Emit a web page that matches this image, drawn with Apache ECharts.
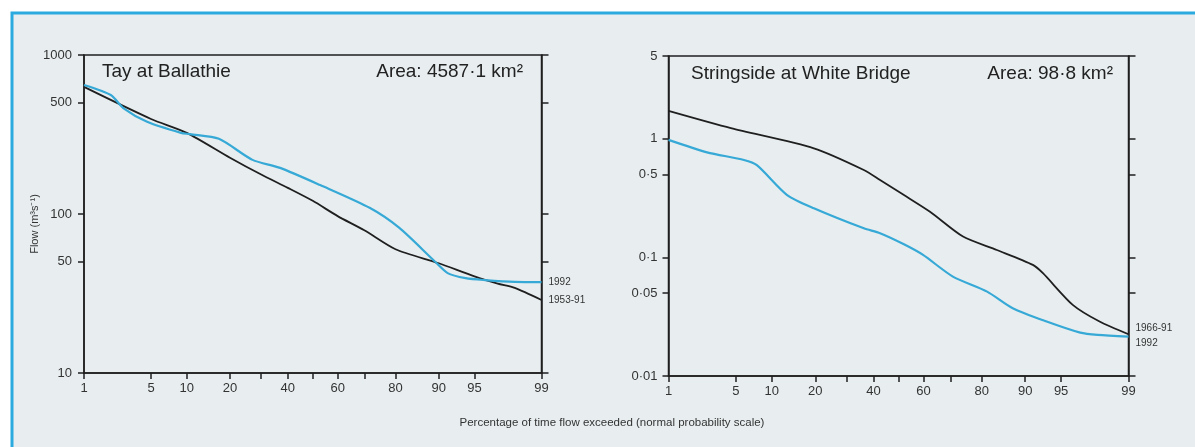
<!DOCTYPE html>
<html>
<head>
<meta charset="utf-8">
<script src="https://cdn.jsdelivr.net/npm/echarts@6/dist/echarts.min.js"></script>
<style>
html,body{margin:0;padding:0;background:#ffffff;}
#chart{width:1195px;height:447px;}
</style>
</head>
<body>
<div id="chart"></div>
<script>
// ---- data (x = percentage of time flow exceeded, y = flow m3/s) ----
const xLabelPercents = [1, 5, 10, 20, 40, 60, 80, 90, 95, 99];
const xTickPercents = [1, 5, 10, 20, 30, 40, 50, 60, 70, 80, 90, 95, 99];

const tayTicks = [10, 50, 100, 500, 1000];
const stringTicks = [0.01, 0.05, 0.1, 0.5, 1, 5];

// Tay at Ballathie, 1953-91
const tayLongP = [1, 5, 10, 20, 30, 40, 50, 60, 70, 80, 90, 95, 97, 98, 99];
const tayLongQ = [630, 396, 324, 226, 177, 146, 121, 97, 79, 60, 49, 40.5, 36.5, 34.3, 28.8];
// Tay at Ballathie, 1992
const tay92P = [1, 2, 2.7, 4.6, 9, 10.6, 17, 27, 37, 53, 72, 81, 89, 91.5, 94, 96, 98, 99];
const tay92Q = [648, 560, 464, 380, 324, 318, 297, 219, 195, 152, 109, 82, 51.4, 42.5, 39.5, 38.4, 37.4, 37.3];

// Stringside at White Bridge, 1966-91
const strLongP = [1, 4.5, 19.6, 36.3, 42.6, 52.2, 62.5, 74.3, 84.0, 91.3, 92.8, 96.1, 97.9, 99];
const strLongQ = [1.72, 1.23, 0.833, 0.547, 0.45, 0.336, 0.243, 0.150, 0.1156, 0.0865, 0.0736, 0.0398, 0.0288, 0.0225];
// Stringside at White Bridge, 1992
const str92P = [1, 2.64, 5.9, 7.6, 13.0, 19.6, 36.3, 42.6, 52.2, 59.8, 70.9, 81.5, 87.6, 93.3, 96.7, 97.8, 99];
const str92Q = [0.98, 0.77, 0.664, 0.60, 0.336, 0.26, 0.176, 0.16, 0.129, 0.105, 0.0689, 0.0515, 0.0373, 0.0288, 0.0232, 0.0222, 0.0215];

// ---- normal probability scale (inverse normal CDF, Acklam) ----
function probit(p) {
  const a = [-3.969683028665376e+01, 2.209460984245205e+02, -2.759285104469687e+02, 1.383577518672690e+02, -3.066479806614716e+01, 2.506628277459239e+00];
  const b = [-5.447609879822406e+01, 1.615858368580409e+02, -1.556989798598866e+02, 6.680131188771972e+01, -1.328068155288572e+01];
  const c = [-7.784894002430293e-03, -3.223964580411365e-01, -2.400758277161838e+00, -2.549732539343734e+00, 4.374664141464968e+00, 2.938163982698783e+00];
  const d = [7.784695709041462e-03, 3.224671290700398e-01, 2.445134137142996e+00, 3.754408661907416e+00];
  const pl = 0.02425, ph = 1 - pl;
  let q, r;
  if (p < pl) {
    q = Math.sqrt(-2 * Math.log(p));
    return (((((c[0]*q+c[1])*q+c[2])*q+c[3])*q+c[4])*q+c[5]) / ((((d[0]*q+d[1])*q+d[2])*q+d[3])*q+1);
  } else if (p <= ph) {
    q = p - 0.5; r = q*q;
    return (((((a[0]*r+a[1])*r+a[2])*r+a[3])*r+a[4])*r+a[5])*q / (((((b[0]*r+b[1])*r+b[2])*r+b[3])*r+b[4])*r+1);
  } else {
    q = Math.sqrt(-2 * Math.log(1 - p));
    return -(((((c[0]*q+c[1])*q+c[2])*q+c[3])*q+c[4])*q+c[5]) / ((((d[0]*q+d[1])*q+d[2])*q+d[3])*q+1);
  }
}
const zOf = pct => probit(pct / 100);
const zMin = zOf(1), zMax = zOf(99);
function pctLabel(v) {
  for (const p of xLabelPercents) if (Math.abs(zOf(p) - v) < 1e-9) return String(p);
  return '';
}
const pairs = (P, Q) => P.map((p, i) => [zOf(p), Q[i]]);
const dotFmt = v => String(Number(Number(v).toPrecision(6))).replace('.', '\u00B7');

const BLACK = '#1f1f1f';
const BLUE = '#36a9d6';
const FONT = "'Liberation Sans', Arial, sans-serif";

function xAxisFor(gi) {
  return {
    type: 'value', gridIndex: gi, min: zMin, max: zMax,
    splitLine: { show: false },
    axisLine: { show: true, onZero: false, lineStyle: { color: BLACK, width: 1.5 } },
    axisTick: { show: true, length: 6, lineStyle: { color: BLACK, width: 1.5 }, customValues: xTickPercents.map(zOf) },
    axisLabel: { show: true, margin: 9, color: '#333', fontSize: 13, fontFamily: FONT, customValues: xLabelPercents.map(zOf), formatter: pctLabel }
  };
}
function yAxesFor(gi, min, max, ticks, fmt, margin) {
  return [{
    type: 'log', gridIndex: gi, min: min, max: max, position: 'left',
    splitLine: { show: false },
    axisLine: { show: true, onZero: false, lineStyle: { color: BLACK, width: 1.5 } },
    axisTick: { show: true, length: 6, lineStyle: { color: BLACK, width: 1.5 }, customValues: ticks },
    axisLabel: { show: true, margin: margin, color: '#333', fontSize: 13, fontFamily: FONT, customValues: ticks, formatter: fmt },
    minorTick: { show: false }
  }, {
    type: 'log', gridIndex: gi, min: min, max: max, position: 'right',
    splitLine: { show: false },
    axisLine: { show: true, onZero: false, lineStyle: { color: BLACK, width: 1.5 } },
    axisTick: { show: true, length: 7, lineStyle: { color: BLACK, width: 1.5 }, customValues: ticks },
    axisLabel: { show: false, customValues: ticks }
  }];
}

function lineSeries(name, xi, yi, data, color, width, offset) {
  return {
    name: name, type: 'line', xAxisIndex: xi, yAxisIndex: yi,
    data: data, showSymbol: false, smooth: 0.25, silent: true,
    lineStyle: { color: color, width: width },
    itemStyle: { color: color },
    endLabel: { show: true, formatter: name, color: '#333', fontSize: 10, fontFamily: FONT, distance: 5, offset: offset }
  };
}

const TITLE_FONT = "19px 'Liberation Sans', Arial, sans-serif";
const chart = echarts.init(document.getElementById('chart'), null, { renderer: 'canvas' });
const option = {
  animation: false,
  backgroundColor: '#ffffff',
  grid: [
    { left: 84, top: 55, width: 457.5, height: 318, show: true, borderColor: BLACK, borderWidth: 1.5, backgroundColor: 'transparent', containLabel: false },
    { left: 668.5, top: 56, width: 460, height: 320, show: true, borderColor: BLACK, borderWidth: 1.5, backgroundColor: 'transparent', containLabel: false }
  ],
  xAxis: [xAxisFor(0), xAxisFor(1)],
  yAxis: [
    ...yAxesFor(0, 10, 1000, tayTicks, v => dotFmt(v), 12),
    ...yAxesFor(1, 0.01, 5, stringTicks, v => dotFmt(v), 11)
  ],
  series: [
    lineSeries('1953-91', 0, 0, pairs(tayLongP, tayLongQ), BLACK, 1.8, [2, 0]),
    lineSeries('1992', 0, 0, pairs(tay92P, tay92Q), BLUE, 2.2, [2, 0]),
    lineSeries('1966-91', 1, 2, pairs(strLongP, strLongQ), BLACK, 1.8, [2, -6]),
    lineSeries('1992', 1, 2, pairs(str92P, str92Q), BLUE, 2.2, [2, 7])
  ],
  graphic: [
    { type: 'rect', z: -10, silent: true, shape: { x: 12, y: 13, width: 1200, height: 450 },
      style: { fill: '#e8eef0', stroke: '#2aaade', lineWidth: 3 } },
    { type: 'text', x: 102, y: 72, silent: true, style: { text: 'Tay at Ballathie', fill: '#222', font: TITLE_FONT, verticalAlign: 'middle', align: 'left' } },
    { type: 'text', x: 523, y: 72, silent: true, style: { text: 'Area: 4587\u00B71 km\u00B2', fill: '#222', font: TITLE_FONT, verticalAlign: 'middle', align: 'right' } },
    { type: 'text', x: 691, y: 74, silent: true, style: { text: 'Stringside at White Bridge', fill: '#222', font: TITLE_FONT, verticalAlign: 'middle', align: 'left' } },
    { type: 'text', x: 1113, y: 74, silent: true, style: { text: 'Area: 98\u00B78 km\u00B2', fill: '#222', font: TITLE_FONT, verticalAlign: 'middle', align: 'right' } },
    { type: 'text', x: 35, y: 224, rotation: Math.PI / 2, silent: true, style: { text: 'Flow (m\u00B3s\u207B\u00B9)', fill: '#333', font: "11px 'Liberation Sans', Arial, sans-serif", verticalAlign: 'middle', align: 'center' } },
    { type: 'text', x: 612, y: 423, silent: true, style: { text: 'Percentage of time flow exceeded (normal probability scale)', fill: '#333', font: "11.5px 'Liberation Sans', Arial, sans-serif", verticalAlign: 'middle', align: 'center' } }
  ]
};
chart.setOption(option);
</script>
</body>
</html>
